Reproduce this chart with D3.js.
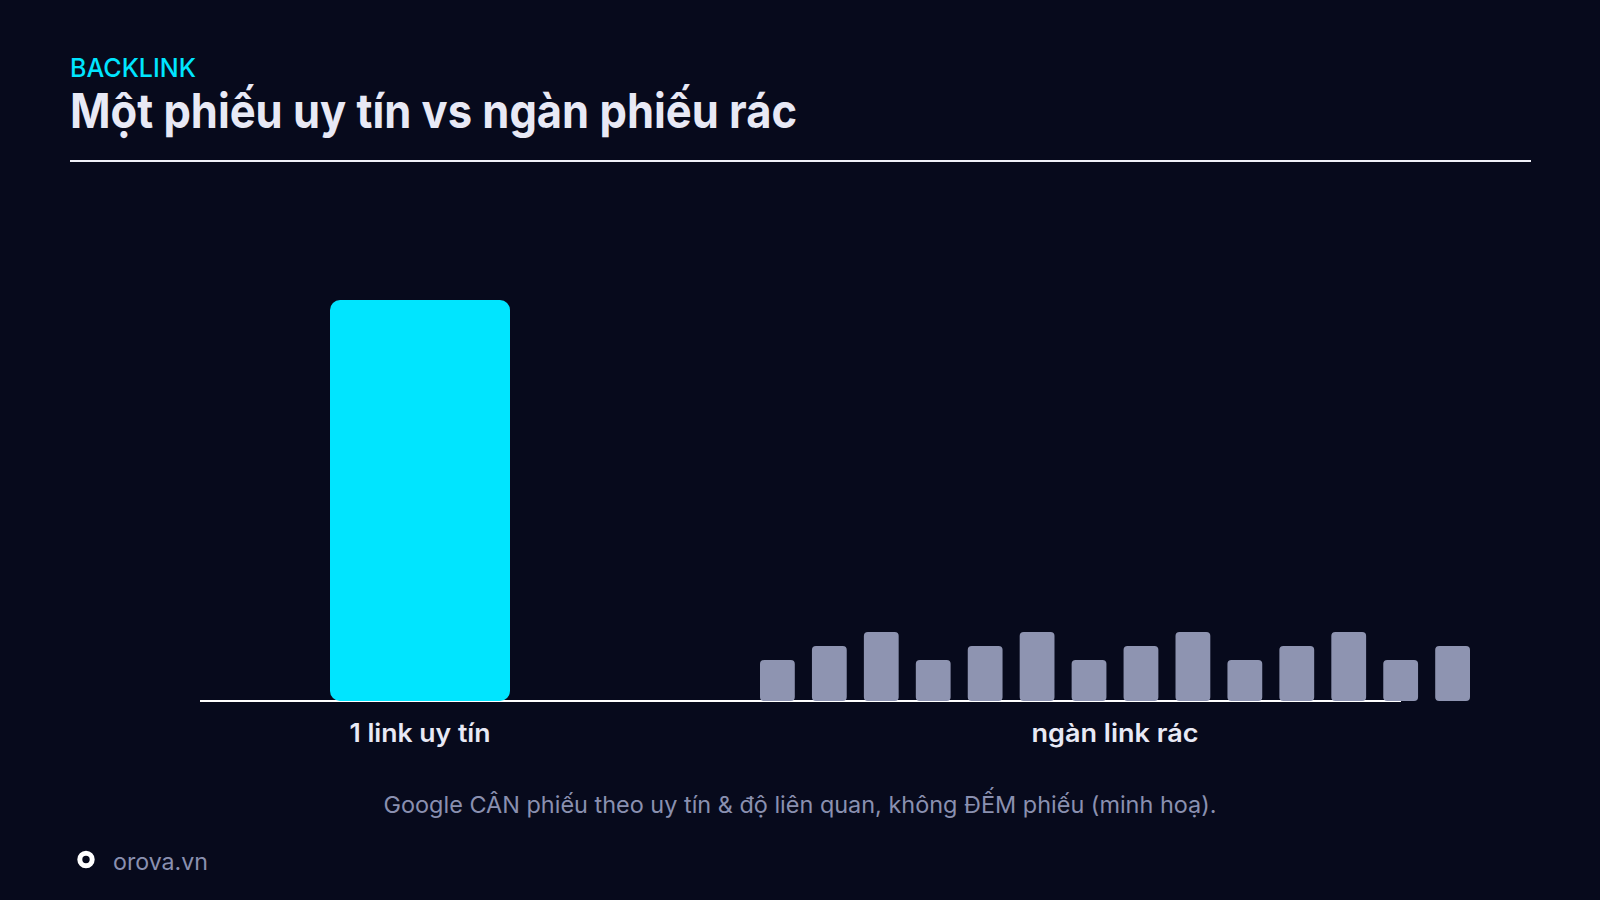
<!DOCTYPE html>
<html>
<head>
<meta charset="utf-8">
<script src="https://cdn.jsdelivr.net/npm/d3@7"></script>
<style>
  html, body { margin: 0; padding: 0; background: #070a1c; }
  svg { display: block; }
  text { font-family: Inter, "Noto Sans", sans-serif; }
</style>
</head>
<body>
<svg id="chart" width="1600" height="900"></svg>
<script>
// ---- data ----
const kicker = "BACKLINK";
const title = "Một phiếu uy tín vs ngàn phiếu rác";
const categories = ["1 link uy tín", "ngàn link rác"];
const trustedValues = [100];
const junkValues = [10.2, 13.7, 17.2, 10.2, 13.7, 17.2, 10.2, 13.7, 17.2, 10.2, 13.7, 17.2, 10.2, 13.7];
const caption = "Google CÂN phiếu theo uy tín & độ liên quan, không ĐẾM phiếu (minh hoạ).";
const brand = "orova.vn";

// ---- layout ----
const W = 1600, H = 900;
const svg = d3.select("#chart");
svg.append("rect").attr("width", W).attr("height", H).attr("fill", "#070a1c");

const COLORS = { bg: "#070a1c", cyan: "#00e5ff", junk: "#8e94b1", text: "#e8e9f5", muted: "#8a90b0" };

function fit(sel, w) {
  sel.attr("textLength", w).attr("lengthAdjust", "spacingAndGlyphs");
  return sel;
}

// header
fit(svg.append("text").attr("x", 70).attr("y", 76.5)
  .attr("fill", COLORS.cyan).attr("font-size", 26).attr("font-weight", 500)
  .text(kicker), 126);

fit(svg.append("text").attr("x", 70).attr("y", 127.5)
  .attr("fill", COLORS.text).attr("font-size", 48).attr("font-weight", 700)
  .text(title), 727);

svg.append("line").attr("x1", 70).attr("x2", 1531).attr("y1", 161).attr("y2", 161)
  .attr("stroke", "#f0f1f8").attr("stroke-width", 2);

// scales
const y = d3.scaleLinear().domain([0, 100]).range([701, 300]);
const x = d3.scalePoint().domain(categories).range([420, 1115]);
const bigW = 180;
const junkX = d3.scaleBand().domain(d3.range(junkValues.length))
  .range([x(categories[1]) - 355, x(categories[1]) + 355])
  .paddingInner(0.33).paddingOuter(0);

// baseline
svg.append("line").attr("x1", 200).attr("x2", 1401).attr("y1", 701).attr("y2", 701)
  .attr("stroke", "#ffffff").attr("stroke-width", 2);

// trusted bar
svg.append("g").selectAll("rect").data(trustedValues).join("rect")
  .attr("x", x(categories[0]) - bigW / 2)
  .attr("width", bigW)
  .attr("y", d => y(d))
  .attr("height", d => y(0) - y(d))
  .attr("rx", 10).attr("ry", 10)
  .attr("fill", COLORS.cyan);

// junk bars
svg.append("g").selectAll("rect").data(junkValues).join("rect")
  .attr("x", (d, i) => junkX(i))
  .attr("width", junkX.bandwidth())
  .attr("y", d => y(d))
  .attr("height", d => y(0) - y(d))
  .attr("rx", 4).attr("ry", 4)
  .attr("fill", COLORS.junk);

// category labels
const labelW = [141, 167];
svg.append("g").selectAll("text").data(categories).join("text")
  .attr("x", d => x(d))
  .attr("y", 742)
  .attr("text-anchor", "middle")
  .attr("fill", COLORS.text)
  .attr("font-size", 25).attr("font-weight", 600)
  .text(d => d)
  .each(function(d, i) { fit(d3.select(this), labelW[i]); });

// caption
fit(svg.append("text").attr("x", 800).attr("y", 813)
  .attr("text-anchor", "middle")
  .attr("fill", COLORS.muted).attr("font-size", 23).attr("font-weight", 400)
  .text(caption), 833);

// footer
svg.append("circle").attr("cx", 86).attr("cy", 859.5).attr("r", 6.2)
  .attr("fill", "none").attr("stroke", "#ffffff").attr("stroke-width", 5);
fit(svg.append("text").attr("x", 113).attr("y", 869.5)
  .attr("fill", COLORS.muted).attr("font-size", 23).attr("font-weight", 400)
  .text(brand), 95);
</script>
</body>
</html>
